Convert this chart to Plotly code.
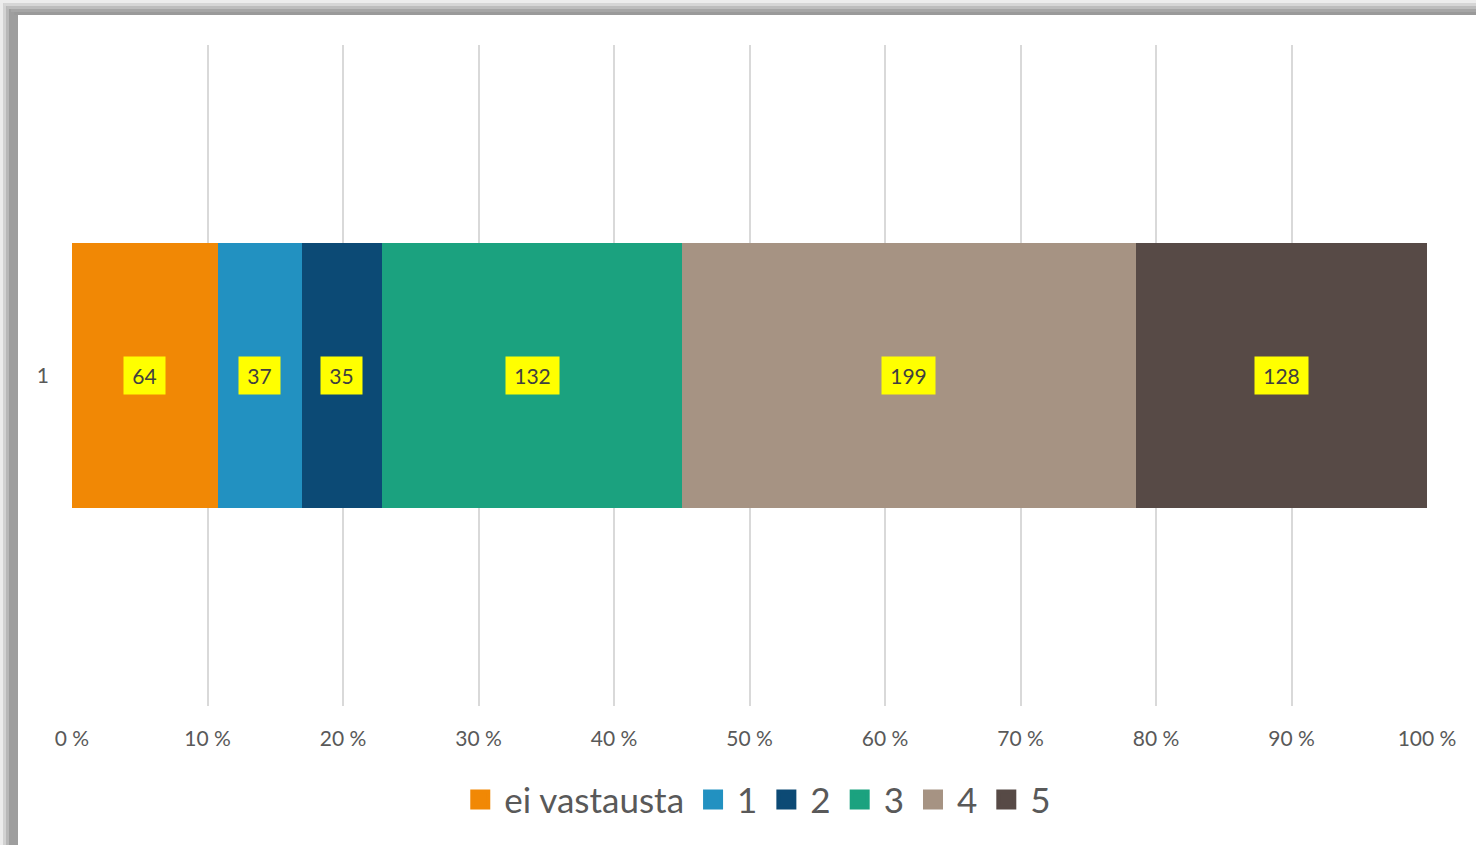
import plotly.graph_objects as go

categories = ["1"]
series_names = ["ei vastausta", "1", "2", "3", "4", "5"]
series_values = [64, 37, 35, 132, 199, 128]
series_colors = ["#F18805", "#2291C1", "#0C4A75", "#1BA27F", "#A69383", "#574A46"]
tick_vals = [0, 10, 20, 30, 40, 50, 60, 70, 80, 90, 100]
tick_text = [f"{v} %" for v in tick_vals]

FONT = "Lato, Carlito, Calibri, sans-serif"
W, H = 1476, 845
L, R, T, B = 72, 49, 45, 139

fig = go.Figure()
for name, val, col in zip(series_names, series_values, series_colors):
    fig.add_trace(go.Bar(
        y=categories, x=[val], name=name, orientation="h",
        marker=dict(color=col, line=dict(width=0)),
        width=0.402, showlegend=False, hoverinfo="name+x",
    ))
    # legend proxy with larger square symbol
    fig.add_trace(go.Scatter(
        y=[None], x=[None], name=name, mode="markers",
        marker=dict(symbol="square", size=16, color=col, line=dict(color=col, width=4)),
        showlegend=True,
    ))

# data labels with yellow background at segment centres
total = sum(series_values)
cum = 0
for val in series_values:
    mid = (cum + val / 2) / total * 100
    cum += val
    txt = str(val)
    fig.add_annotation(
        x=mid, y=0, xref="x", yref="y", text=txt, showarrow=False,
        bgcolor="#FFFF00", borderpad=6, width=12 * len(txt) + 5,
        font=dict(family=FONT, size=21, color="#404040"),
    )

# grey frame (shadow) on the left and top
pw = W - L - R
ph = H - T - B
def px_x(x):
    return (x - L) / pw
def px_y(y):
    return (H - B - y) / ph

left_strips = [(0, 3, "#ececec"), (3, 6, "#d2d2d2"), (6, 9, "#b8b8b8"), (9, 18, "#9e9e9e")]
for x0, x1, c in left_strips:
    fig.add_shape(type="rect", xref="paper", yref="paper",
                  x0=px_x(x0), x1=px_x(x1), y0=px_y(H), y1=px_y(0),
                  fillcolor=c, line=dict(width=0), layer="above")
top_strips = [(0, 3, "#ededed"), (3, 6, "#d6d6d6"), (6, 9, "#bdbdbd"), (9, 12, "#a6a6a6"), (12, 15, "#9a9a9a")]
for y0, y1, c in top_strips:
    fig.add_shape(type="rect", xref="paper", yref="paper",
                  x0=px_x(max(0, y0 * 1.2)), x1=px_x(W), y0=px_y(y1), y1=px_y(y0),
                  fillcolor=c, line=dict(width=0), layer="above")

fig.update_layout(
    width=W, height=H,
    barmode="stack", barnorm="percent",
    paper_bgcolor="white", plot_bgcolor="white",
    margin=dict(l=L, r=R, t=T, b=B, pad=0),
    font=dict(family=FONT, color="#595959"),
    showlegend=True,
    legend=dict(orientation="h", x=0.505, xanchor="center", y=-0.142, yanchor="middle",
                traceorder="normal",
                font=dict(family=FONT, size=35, color="#595959"),
                itemwidth=38, tracegroupgap=0, bgcolor="rgba(0,0,0,0)"),
    xaxis=dict(range=[0, 100], tickvals=tick_vals, ticktext=tick_text,
               showgrid=True, gridcolor="#D9D9D9", gridwidth=2,
               zeroline=False, showline=False, ticks="",
               ticklabelstandoff=18,
               tickfont=dict(family=FONT, size=21, color="#595959")),
    yaxis=dict(range=[-0.5, 0.5], showgrid=False, zeroline=False, showline=False,
               ticks="", ticklabelstandoff=22, type="category",
               tickfont=dict(family=FONT, size=21, color="#595959")),
)

fig.write_html("out.html", config={"displayModeBar": False},
               post_script="document.body.style.margin='0';document.body.style.overflow='hidden';")
